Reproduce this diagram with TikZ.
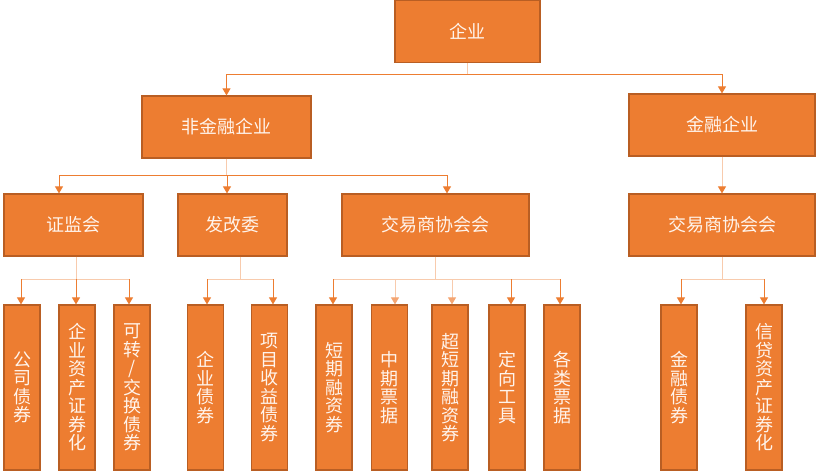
\documentclass[tikz,border=0pt]{standalone}
\usepackage{fontspec}
\newfontfamily\cjk{Noto Sans CJK SC}
\usepackage{xcolor}
\usetikzlibrary{arrows.meta}

\definecolor{chengse}{HTML}{ED7D31}
\definecolor{bianse}{HTML}{B95E23}
\definecolor{qianse}{HTML}{F8CBAD}
\definecolor{zhongse}{HTML}{F4A572}
\definecolor{wenzi}{HTML}{FFF4EC}

\tikzset{
  kuang/.style={draw=bianse, fill=chengse, line width=1.2pt, text=wenzi,
    font=\cjk\fontsize{18}{18.5}\selectfont, align=center, inner sep=0pt},
  heng/.style={kuang, minimum height=62pt},
  shu/.style={kuang, minimum width=36pt, minimum height=165pt},
  gan/.style={qianse, line width=1pt},
  xian/.style={chengse, line width=1pt},
  jian/.style={xian, -{Triangle[width=8pt,length=7pt]}},
  qjian/.style={gan, -{Triangle[width=8pt,length=7pt,color=zhongse]}},
}

\begin{document}
\begin{tikzpicture}[x=1pt,y=-1pt]
    \useasboundingbox (0,0) rectangle (816,472);
    % 第一层
    \node[heng, minimum width=145pt] (qy) at (467.5,31.5) {企业};
    % 第二层
    \node[heng, minimum width=169pt] (fjr) at (226.5,127) {非金融企业};
    \node[heng, minimum width=186pt] (jr) at (722,125) {金融企业};
    % 第三层
    \node[heng, minimum width=139pt] (zjh) at (73.5,225) {证监会};
    \node[heng, minimum width=109pt] (fgw) at (232.5,225) {发改委};
    \node[heng, minimum width=187pt] (jysa) at (435.5,225) {交易商协会会};
    \node[heng, minimum width=186pt] (jysb) at (722,225) {交易商协会会};
    % 第四层
    \foreach \n/\x/\t in {gszq/22/{公\\司\\债\\券}, qyzc/77/{企\\业\\资\\产\\证\\券\\化},
        kzh/132/{可\\转\\/\\交\\换\\债\\券}, qyzq/205.5/{企\\业\\债\\券},
        xmsy/269.5/{项\\目\\收\\益\\债\\券}, dqrz/334/{短\\期\\融\\资\\券},
        zqpj/389.5/{中\\期\\票\\据}, cdq/450/{超\\短\\期\\融\\资\\券},
        dxgj/507/{定\\向\\工\\具}, glpj/562/{各\\类\\票\\据},
        jrzq/679/{金\\融\\债\\券}, xdzc/764/{信\\贷\\资\\产\\证\\券\\化}} {
        \node[shu] (\n) at (\x,387.5) {\t};
    }
    % 企业 -> 第二层
    \draw[gan] (qy.south) -- (qy.south |- 0,74);
    \draw[xian] (fjr.north |- 0,74) -- (jr.north |- 0,74);
    \draw[jian] (fjr.north |- 0,74) -- (fjr.north);
    \draw[jian] (jr.north |- 0,74) -- (jr.north);
    % 非金融企业 -> 第三层
    \draw[gan] (fjr.south) -- (fjr.south |- 0,175);
    \draw[xian] (59,175) -- (447,175);
    \foreach \n/\x in {zjh/59, fgw/227, jysa/447}
        \draw[jian] (\x,175) -- (\x,0 |- \n.north);
    % 金融企业 -> 交易商协会会
    \draw[gan, -{Triangle[width=8pt,length=7pt,color=chengse]}] (jr.south) -- (jysb.north);
    % 证监会
    \draw[gan] (76,0 |- zjh.south) -- (76,279);
    \draw[gan] (21,279) -- (129,279);
    \foreach \n/\x in {gszq/21, qyzc/76, kzh/129}
        \draw[jian] (\x,279) -- (\x,0 |- \n.north);
    % 发改委
    \draw[gan] (240,0 |- fgw.south) -- (240,279);
    \draw[gan] (207,279) -- (273,279);
    \foreach \n/\x in {qyzq/207, xmsy/273}
        \draw[jian] (\x,279) -- (\x,0 |- \n.north);
    % 交易商协会会（非金融）
    \draw[gan] (jysa.south) -- (jysa.south |- 0,279);
    \draw[gan] (333,279) -- (560,279);
    \foreach \n/\x in {dqrz/333, dxgj/511, glpj/560}
        \draw[jian] (\x,279) -- (\x,0 |- \n.north);
    \foreach \n/\x in {zqpj/395, cdq/452}
        \draw[qjian] (\x,279) -- (\x,0 |- \n.north);
    % 交易商协会会（金融）
    \draw[gan] (jysb.south) -- (jysb.south |- 0,279);
    \draw[gan] (681,279) -- (764,279);
    \foreach \n/\x in {jrzq/681, xdzc/764}
        \draw[jian] (\x,279) -- (\x,0 |- \n.north);
\end{tikzpicture}
\end{document}
